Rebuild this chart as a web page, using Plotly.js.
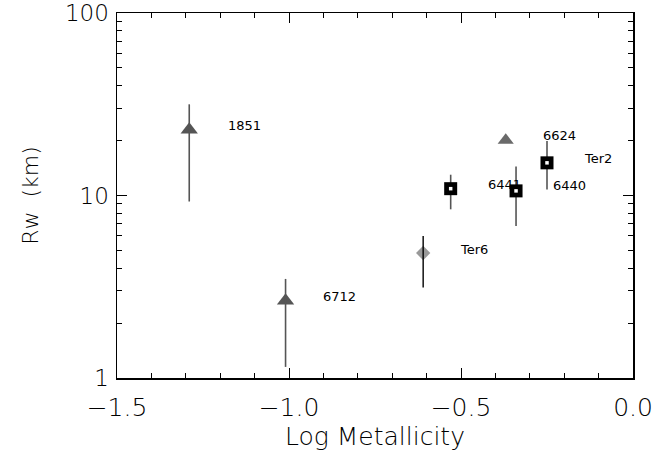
<!DOCTYPE html>
<html>
<head>
<meta charset="utf-8">
<script src="https://cdn.plot.ly/plotly-3.0.1.min.js"></script>
<style>html,body{margin:0;padding:0;background:#fff;}#chart{width:669px;height:459px;}</style>
</head>
<body>
<div id="chart"></div>
<script>
// Triangles (NGC 1851, NGC 6712, NGC 6624)
const triX = [-1.29, -1.01, -0.37];
const triY = [22.9, 2.65, 20.1];
const triUp = [31.6, 3.49, 20.1];
const triLo = [9.27, 1.15, 20.1];
// Diamond (Terzan 6)
const diaX = [-0.61];
const diaY = [4.84];
const diaUp = [6.0];
const diaLo = [3.13];
// Squares (NGC 6441 region, NGC 6440, Terzan 2)
const sqX = [-0.53, -0.34, -0.25];
const sqY = [10.9, 10.6, 15.1];
const sqUp = [13.0, 14.4, 19.9];
const sqLo = [8.4, 6.8, 10.8];
// Labels
const labels = ["1851", "6712", "Ter6", "6441", "6440", "6624", "Ter2"];
const labelX = [-1.183, -0.907, -0.509, -0.427, -0.238, -0.267, -0.147];
const labelY = [24.3, 2.79, 5.09, 11.5, 11.4, 21.2, 15.9];
const xTicks = [-1.5, -1.0, -0.5, 0.0];
const xTickText = ["\u22121.5", "\u22121.0", "\u22120.5", "0.0"];
const yTicks = [1, 10, 100];
const yTickText = ["1", "10", "100"];

const up = (v, u) => u.map((x, i) => x - v[i]);
const lo = (v, l) => v.map((x, i) => x - l[i]);

const FONT = "DejaVu Sans";
const traces = [
  {x: triX.slice(0,2), y: triY.slice(0,2), mode: 'markers', type: 'scatter',
   marker: {symbol: 'triangle-up', size: 15, color: '#555555'}},
  {x: triX.slice(2), y: triY.slice(2), mode: 'markers', type: 'scatter',
   marker: {symbol: 'triangle-up', size: 14, color: '#6a6a6a'}},
  {x: diaX, y: diaY, mode: 'markers', type: 'scatter',
   marker: {symbol: 'diamond', size: 11, color: '#999999'}},
  {x: triX.slice(0,2), y: triY.slice(0,2), mode: 'markers', type: 'scatter',
   marker: {size: 1, opacity: 0},
   error_y: {type: 'data', symmetric: false, array: up(triY.slice(0,2), triUp.slice(0,2)),
             arrayminus: lo(triY.slice(0,2), triLo.slice(0,2)), width: 0, thickness: 1.6, color: '#555555'}},
  {x: diaX, y: diaY, mode: 'markers', type: 'scatter',
   marker: {size: 1, opacity: 0},
   error_y: {type: 'data', symmetric: false, array: up(diaY, diaUp), arrayminus: lo(diaY, diaLo),
             width: 0, thickness: 1.4, color: '#000000'}},
  {x: sqX, y: sqY, mode: 'markers', type: 'scatter',
   marker: {symbol: 'square', size: 13, color: '#000000'},
   error_y: {type: 'data', symmetric: false, array: up(sqY, sqUp), arrayminus: lo(sqY, sqLo),
             width: 0, thickness: 1.6, color: '#555555'}},
  {x: sqX, y: sqY, mode: 'markers', type: 'scatter',
   marker: {symbol: 'square', size: 3.5, color: '#ffffff'}}
];

const annotations = labels.map((t, i) => ({
  x: labelX[i], y: Math.log10(labelY[i]), xref: 'x', yref: 'y', text: t,
  showarrow: false, xanchor: 'left', yanchor: 'middle',
  font: {family: FONT, size: 13, color: '#000'}
}));

const axisCommon = {
  showgrid: false, zeroline: false, showline: true, linecolor: '#000', linewidth: 1.5,
  mirror: 'allticks', ticks: 'inside', ticklen: 10, tickwidth: 1, tickcolor: '#000',
  ticklabeloverflow: 'allow'
};

const layout = {
  width: 669, height: 459,
  margin: {l: 117, r: 36, t: 13, b: 81},
  paper_bgcolor: '#fff', plot_bgcolor: '#fff',
  showlegend: false,
  xaxis: Object.assign({}, axisCommon, {
    range: [-1.5, 0.0], tickmode: 'array', tickvals: xTicks, ticktext: xTickText,
    ticklabelstandoff: 6,
    tickfont: {family: FONT, size: 25, color: '#000', weight: 200},
    minor: {ticks: 'inside', ticklen: 5, dtick: 0.1, tickcolor: '#000', showgrid: false},
    title: {text: 'Log Metallicity', font: {family: FONT, size: 25, color: '#000', weight: 200}, standoff: 6}
  }),
  yaxis: Object.assign({}, axisCommon, {
    type: 'log', range: [0, 2], tickmode: 'array', tickvals: yTicks, ticktext: yTickText,
    ticklabelstandoff: 2,
    tickfont: {family: FONT, size: 23, color: '#000', weight: 200},
    minor: {ticks: 'inside', ticklen: 5, dtick: 'D1', tickcolor: '#000', showgrid: false},
    title: {text: 'Rw  (km)', font: {family: FONT, size: 22, color: '#000', weight: 200}, standoff: 20}
  }),
  annotations: annotations
};

Plotly.newPlot('chart', traces, layout, {staticPlot: true, displayModeBar: false});
</script>
</body>
</html>
